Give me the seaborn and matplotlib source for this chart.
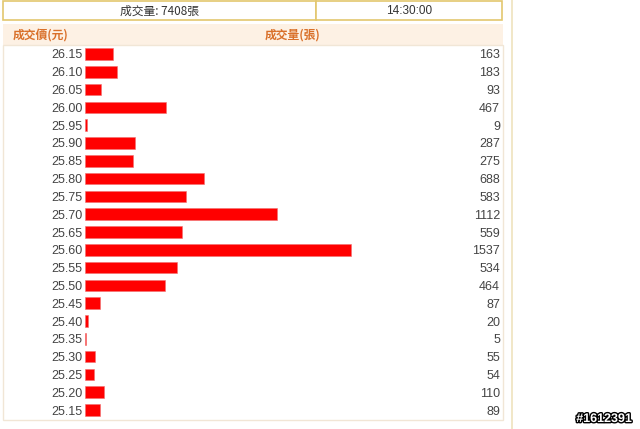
import matplotlib.pyplot as plt
import matplotlib.patheffects as pe
from matplotlib.patches import Rectangle
from matplotlib.lines import Line2D
import seaborn as sns
import pandas as pd

prices = ['26.15', '26.10', '26.05', '26.00', '25.95', '25.90', '25.85', '25.80',
          '25.75', '25.70', '25.65', '25.60', '25.55', '25.50', '25.45', '25.40',
          '25.35', '25.30', '25.25', '25.20', '25.15']
volumes = [163, 183, 93, 467, 9, 287, 275, 688, 583, 1112, 559, 1537, 534, 464,
           87, 20, 5, 55, 54, 110, 89]
total_label = '成交量: 7408張'
time_label = '14:30:00'

sns.set_style('white')
plt.rcParams['font.family'] = ['Liberation Sans', 'Noto Sans CJK TC', 'DejaVu Sans']
cjk = ['Noto Sans CJK TC', 'DejaVu Sans']

W, H = 640, 429
fig = plt.figure(figsize=(6.4, 4.29), dpi=100)


def fx(x):
    return x / W


def fy(y):
    return 1 - y / H


def box(x0, y0, x1, y1, **kw):
    fig.patches.append(Rectangle((fx(x0), fy(y1)), fx(x1 - x0), (y1 - y0) / H,
                                 transform=fig.transFigure, **kw))


# top info row
box(3, 1, 316, 20, facecolor='white', edgecolor='#e3c76e', lw=1.2)
box(316, 1, 502, 20, facecolor='white', edgecolor='#e3c76e', lw=1.2)
fig.text(fx(160), fy(11), total_label, family=cjk, fontsize=8.5, color='#333333',
         ha='center', va='center')
fig.text(fx(409), fy(11), time_label, fontsize=8.5, color='#333333',
         ha='center', va='center')

# column header band
box(3, 24, 503, 45, facecolor='#fdf1e4', edgecolor='none')
fig.text(fx(13), fy(35), '成交價(元)', family=cjk, fontsize=8.5, color='#d9702a',
         ha='left', va='center', weight='bold')
fig.text(fx(265), fy(35), '成交量(張)', family=cjk, fontsize=8.5, color='#d9702a',
         ha='left', va='center', weight='bold')

# body frame
box(3, 45, 503, 420, facecolor='none', edgecolor='#f1e6d6', lw=1)
fig.lines.append(Line2D([fx(512), fx(512)], [0, 1], transform=fig.transFigure,
                        color='#efe3bd', lw=1.2))

ax = fig.add_axes([fx(85), fy(419), fx(503 - 85), 374 / H])
df = pd.DataFrame({'price': prices, 'volume': volumes})
sns.barplot(data=df, x='volume', y='price', order=prices, orient='h',
            color='#ff0000', saturation=1, width=0.65, edgecolor='#f07070',
            linewidth=0.4, ax=ax)
ax.set_xlim(0, 2415)
ax.set_ylim(len(prices) - 0.5, -0.5)
ax.set_xticks([])
ax.set_xlabel('')
ax.set_ylabel('')
ax.tick_params(axis='y', length=0, pad=2, labelsize=9, labelcolor='#444444')
for s in ax.spines.values():
    s.set_visible(False)
ax.patch.set_alpha(0)

tr = ax.get_yaxis_transform()
for i, v in enumerate(volumes):
    ax.text(0.993, i, str(v), transform=tr, ha='right', va='center_baseline',
            fontsize=9, color='#444444')

fig.text(fx(632), fy(419), '#1612391', fontsize=9, color='white', ha='right',
         va='center', weight='bold',
         path_effects=[pe.withStroke(linewidth=2, foreground='black')])

fig.savefig('out.png', dpi=100)
